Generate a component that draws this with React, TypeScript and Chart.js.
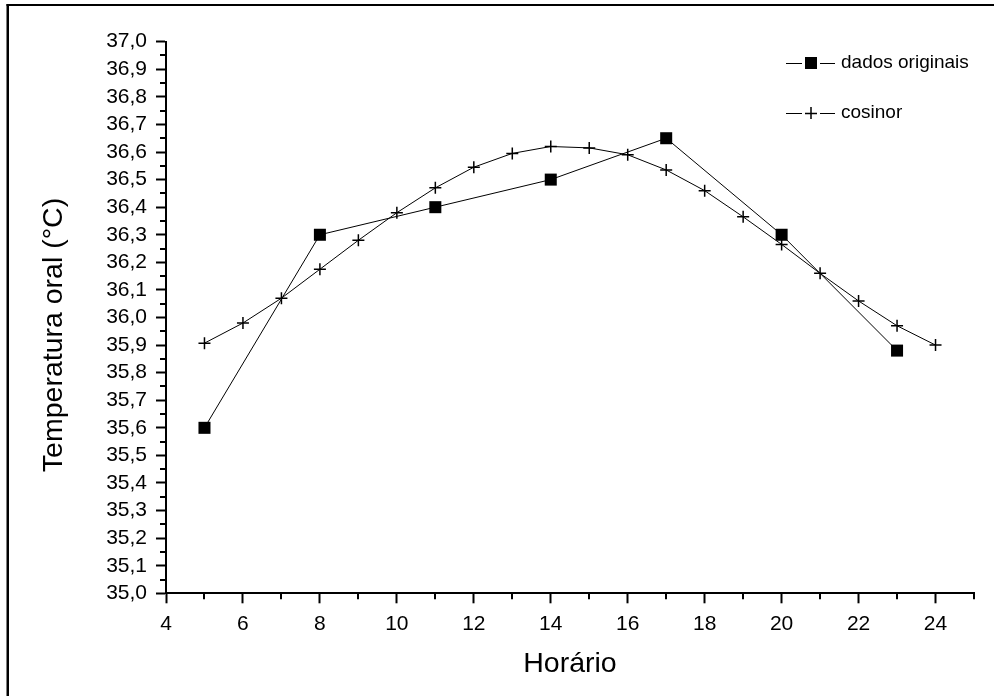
import React, { useEffect, useRef } from "react";
import { Chart, registerables } from "chart.js";

Chart.register(...registerables);

const horasOriginais = [5, 8, 11, 14, 17, 20, 23];
const tempOriginais = [35.6, 36.3, 36.4, 36.5, 36.65, 36.3, 35.88];

const horasCosinor = [5, 6, 7, 8, 9, 10, 11, 12, 13, 14, 15, 16, 17, 18, 19, 20, 21, 22, 23, 24];
const tempCosinor = [
  35.907, 35.98, 36.07, 36.175, 36.28, 36.38, 36.47, 36.545, 36.595, 36.62,
  36.615, 36.59, 36.535, 36.46, 36.365, 36.265, 36.16, 36.06, 35.97, 35.9,
];

const seriesLabels = ["dados originais", "cosinor"];
const xTitle = "Horário";
const yTitle = "Temperatura oral (°C)";

const FONT = "'Liberation Sans', Arial, sans-serif";

const decorPlugin = {
  id: "decor",
  afterDraw(chart: any) {
    const ctx = chart.ctx;
    const xs = chart.scales.x;
    const ys = chart.scales.y;
    const area = chart.chartArea;
    ctx.save();
    ctx.fillStyle = "#000";
    // outer frame (left and top edges visible)
    ctx.fillRect(6.5, 4, 2.5, 700);
    ctx.fillRect(6.5, 4, 1000, 2);

    // minor ticks
    ctx.strokeStyle = "#000";
    ctx.lineWidth = 2;
    ctx.beginPath();
    for (let i = 0; i < 20; i++) {
      const v = 35.05 + i * 0.1;
      const py = Math.round(ys.getPixelForValue(v));
      ctx.moveTo(area.left - 6, py);
      ctx.lineTo(area.left, py);
    }
    for (let v = 5; v <= 25; v += 2) {
      const px = Math.round(xs.getPixelForValue(v));
      ctx.moveTo(px, area.bottom);
      ctx.lineTo(px, area.bottom + 6);
    }
    ctx.stroke();

    // axis titles
    ctx.fillStyle = "#000";
    ctx.font = `28.5px ${FONT}`;
    ctx.textAlign = "center";
    ctx.textBaseline = "alphabetic";
    ctx.fillText(xTitle, (area.left + area.right) / 2, 672);
    ctx.save();
    ctx.translate(62, 335);
    ctx.rotate(-Math.PI / 2);
    ctx.fillText(yTitle, 0, 0);
    ctx.restore();

    // legend
    ctx.lineWidth = 1;
    ctx.font = `19px ${FONT}`;
    ctx.textAlign = "left";
    ctx.textBaseline = "middle";
    const rows = [63, 113];
    rows.forEach((ry, i) => {
      ctx.beginPath();
      ctx.moveTo(786, ry + 0.5);
      ctx.lineTo(835, ry + 0.5);
      ctx.stroke();
      ctx.fillStyle = "#fff";
      ctx.fillRect(802, ry - 8, 18, 16);
      ctx.fillStyle = "#000";
      if (i === 0) {
        ctx.fillRect(805, ry - 6, 12, 12);
      } else {
        ctx.lineWidth = 1.5;
        ctx.beginPath();
        ctx.moveTo(805, ry + 0.5);
        ctx.lineTo(817, ry + 0.5);
        ctx.moveTo(811, ry - 6);
        ctx.lineTo(811, ry + 6);
        ctx.stroke();
        ctx.lineWidth = 1;
      }
      ctx.fillText(seriesLabels[i], 841, ry);
    });
    ctx.restore();
  },
};

export default function App() {
  const ref = useRef<HTMLCanvasElement | null>(null);

  useEffect(() => {
    document.body.style.margin = "0";
    const canvas = ref.current;
    if (!canvas) return;
    const chart = new Chart(canvas, {
      type: "line",
      data: {
        datasets: [
          {
            label: seriesLabels[0],
            data: horasOriginais.map((h, i) => ({ x: h, y: tempOriginais[i] })),
            borderColor: "#000",
            borderWidth: 1,
            pointStyle: "rect",
            pointRadius: 8.5,
            pointBackgroundColor: "#000",
            pointBorderColor: "#000",
            pointBorderWidth: 0,
            tension: 0,
            clip: false,
          },
          {
            label: seriesLabels[1],
            data: horasCosinor.map((h, i) => ({ x: h, y: tempCosinor[i] })),
            borderColor: "#000",
            borderWidth: 1,
            pointStyle: "cross",
            pointRadius: 6,
            pointBorderColor: "#000",
            pointBorderWidth: 1.5,
            tension: 0,
            clip: false,
          },
        ],
      },
      options: {
        responsive: false,
        animation: false,
        devicePixelRatio: 1,
        layout: { padding: { left: 0, right: 20, top: 41.7, bottom: 0 } },
        plugins: {
          legend: { display: false },
          tooltip: { enabled: false },
        },
        scales: {
          x: {
            type: "linear",
            min: 4,
            max: 25,
            afterFit: (s: any) => {
              s.height = 696 - 593.3;
            },
            ticks: {
              stepSize: 2,
              includeBounds: false,
              autoSkip: false,
              maxRotation: 0,
              color: "#000",
              padding: 8,
              font: { family: FONT, size: 21 },
            },
            grid: {
              drawOnChartArea: false,
              drawTicks: true,
              tickLength: 10,
              tickColor: "#000",
              tickWidth: 2,
            },
            border: { display: true, color: "#000", width: 2 },
          },
          y: {
            type: "linear",
            min: 35,
            max: 37,
            afterFit: (s: any) => {
              s.width = 166;
            },
            ticks: {
              stepSize: 0.1,
              autoSkip: false,
              color: "#000",
              padding: 9,
              font: { family: FONT, size: 21 },
              callback: (v: any) => Number(v).toFixed(1).replace(".", ","),
            },
            grid: {
              drawOnChartArea: false,
              drawTicks: true,
              tickLength: 10,
              tickColor: "#000",
              tickWidth: 2,
            },
            border: { display: true, color: "#000", width: 2 },
          },
        },
      },
      plugins: [decorPlugin],
    });
    return () => chart.destroy();
  }, []);

  return (
    <div style={{ width: 994, height: 696, background: "#fff" }}>
      <canvas ref={ref} width={994} height={696} style={{ display: "block", width: 994, height: 696 }} />
    </div>
  );
}
